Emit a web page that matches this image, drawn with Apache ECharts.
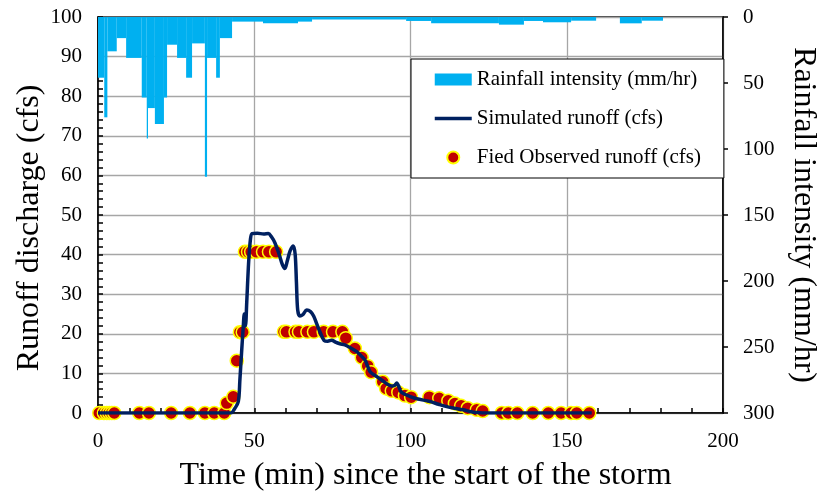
<!DOCTYPE html>
<html lang="en">
<head>
    <meta charset="utf-8" />
    <title>Runoff and rainfall</title>
    <script src="https://cdn.jsdelivr.net/npm/echarts@6/dist/echarts.min.js"></script>
    <style>
        html, body { margin: 0; padding: 0; background: #fff; }
        #main { width: 821px; height: 498px; }
    </style>
</head>
<body>
<div id="main"></div>
<script>
    // rainfall blocks: start time, end time (min), intensity (mm/hr)
    var rainStart = [0, 2, 3, 6, 9, 14, 15.6, 16, 18.2, 21.1, 22.1, 25.3, 28.2, 30.1, 34.2, 34.9, 37.8, 39, 42.9, 52.8, 64, 68.5, 98.6, 106.6, 128.3, 136.3, 142.4, 151.4, 167, 174];
    var rainEnd   = [2, 3, 6, 9, 14, 15.6, 16, 18.2, 21.1, 22.1, 25.3, 28.2, 30.1, 34.2, 34.9, 37.8, 39, 42.9, 52.8, 64, 68.5, 98.6, 106.6, 128.3, 136.3, 142.4, 151.4, 159.4, 174, 180.8];
    var rainRate  = [46, 76, 26, 16, 31, 61, 92, 69, 81, 61, 21, 31, 46, 20, 121, 31, 46, 16, 3.5, 4.8, 3.5, 1.8, 3, 4.8, 5.8, 3, 4, 2.8, 4.8, 2.8];

    // simulated runoff
    var simTime = [0, 42.5, 43.5, 44.9, 45.4, 46.0, 46.5, 46.8, 47.2, 47.6, 48.2, 48.8, 49.3, 51, 53, 54.5, 55.5, 56.6, 58, 59, 59.8, 60.6, 61.5, 62.5, 63.1, 63.5, 63.9, 64.6, 65.5, 66.8, 68, 69, 70, 71, 72.4, 73.5, 74.8, 76, 77.4, 79, 80.5, 82.8, 84.5, 85.5, 86.3, 87.2, 89.2, 91, 92.4, 94, 95, 95.6, 96.3, 96.9, 98, 99.8, 102, 106.2, 109, 111.6, 114, 116.9, 119, 121.2, 123, 158];
    var simFlow = [0, 0, 0.8, 2.9, 8.3, 16, 22, 25, 22, 28, 38, 44, 45.3, 45.4, 45.2, 45.3, 44.5, 43, 40, 37.5, 36.5, 38.5, 41, 42.2, 40, 33, 26, 24.5, 24.8, 26, 25.6, 24.5, 22.5, 20.5, 18.3, 18.1, 18.4, 17.9, 17.5, 17.2, 16.6, 15.5, 14.2, 13.3, 11.8, 10.3, 9.2, 8.2, 7.4, 6.8, 7.0, 7.6, 6.6, 5.4, 4.8, 4.2, 3.6, 2.9, 2.2, 1.6, 1.2, 0.8, 0.4, 0.1, 0, 0];

    // field observed runoff
    var obsTime = [0.4, 1.9, 2.8, 3.6, 4.4, 5.2, 13.2, 16.3, 23.4, 29.4, 34.2, 37.2, 40.4, 41.2, 43.3, 44.4, 45.4, 46.3, 47.0, 48.0, 49.0, 50.7, 52.8, 54.7, 57.0, 59.5, 60.3, 63.2, 64.3, 67.0, 69.1, 72.2, 75.2, 78.2, 79.3, 82.2, 84.4, 86.3, 87.4, 91.1, 92.2, 94.0, 96.1, 98.2, 100.2, 106.0, 109.2, 112.1, 114.2, 116.2, 118.3, 121.2, 123.1, 129.2, 131.3, 134.2, 139.1, 144.1, 148.2, 151.4, 153.2, 157.2];
    var obsFlow = [0, 0, 0, 0, 0, 0, 0, 0, 0, 0, 0, 0, 0, 2.5, 4.1, 13.2, 20.4, 20.4, 40.7, 40.7, 40.7, 40.7, 40.7, 40.7, 40.7, 20.5, 20.5, 20.5, 20.5, 20.5, 20.5, 20.5, 20.5, 20.5, 18.9, 16.3, 14.0, 11.9, 10.3, 7.9, 6.2, 5.6, 5.2, 4.4, 4.0, 4.0, 3.7, 3.1, 2.4, 1.8, 1.2, 0.8, 0.5, 0, 0, 0, 0, 0, 0, 0, 0, 0];

    var rainData = [];
    for (var i = 0; i < rainRate.length; i++) {
        rainData.push([rainStart[i], rainEnd[i], rainRate[i]]);
    }
    var simData = [];
    for (var j = 0; j < simTime.length; j++) {
        simData.push([simTime[j], simFlow[j]]);
    }
    var obsData = [];
    for (var k = 0; k < obsTime.length; k++) {
        obsData.push([obsTime[k], obsFlow[k]]);
    }

    var font = 'Liberation Serif';
    var myChart = echarts.init(document.getElementById('main'));

    var option = {
        animation: false,
        backgroundColor: '#fff',
        textStyle: { fontFamily: font, color: '#000' },
        grid: {
            left: 98, right: 98, top: 17, bottom: 85,
            outerBoundsMode: 'none',
            show: true, borderColor: '#000', borderWidth: 1.5
        },
        legend: {
            orient: 'vertical',
            left: 411, top: 59,
            padding: [10, 23, 10, 22],
            itemGap: 18,
            itemWidth: 37,
            itemHeight: 12,
            backgroundColor: '#fff',
            borderColor: '#000',
            borderWidth: 1,
            borderRadius: 0,
            textStyle: { fontFamily: font, fontSize: 21, color: '#000' },
            data: [
                { name: 'Rainfall intensity (mm/hr)', icon: 'rect' },
                { name: 'Simulated runoff (cfs)', itemStyle: { opacity: 0 }, lineStyle: { width: 3.5 } },
                { name: 'Fied Observed runoff (cfs)', icon: 'circle' }
            ]
        },
        xAxis: {
            type: 'value',
            min: 0, max: 200, interval: 50,
            name: 'Time (min) since the start of the storm',
            nameLocation: 'middle',
            nameGap: 47,
            nameTextStyle: { fontFamily: font, fontSize: 32, color: '#000', padding: [0, 0, 0, 30] },
            axisLine: { lineStyle: { color: '#000', width: 1.5 } },
            axisTick: { inside: true, length: 5, lineStyle: { color: '#000', width: 1.5 } },
            minorTick: { show: true, splitNumber: 5, length: 5, lineStyle: { color: '#000', width: 1.5 } },
            axisLabel: { fontFamily: font, fontSize: 21, color: '#000', margin: 18 },
            splitLine: { show: true, lineStyle: { color: '#a6a6a6', width: 1.3 } }
        },
        yAxis: [
            {
                type: 'value',
                min: 0, max: 100, interval: 10,
                name: 'Runoff discharge (cfs)',
                nameLocation: 'middle',
                nameGap: 52,
                nameMoveOverlap: false,
                nameTextStyle: { fontFamily: font, fontSize: 32, color: '#000', padding: [0, 26, 0, 0] },
                axisLine: { show: true, lineStyle: { color: '#000', width: 1.5 } },
                axisTick: { show: true, inside: true, length: 5, lineStyle: { color: '#000', width: 1.5 } },
                minorTick: { show: true, splitNumber: 5, length: 5, lineStyle: { color: '#000', width: 1.5 } },
                axisLabel: { fontFamily: font, fontSize: 21, color: '#000', margin: 16 },
                splitLine: { show: true, lineStyle: { color: '#a6a6a6', width: 1.3 } }
            },
            {
                type: 'value',
                position: 'right',
                inverse: true,
                min: 0, max: 300, interval: 50,
                name: 'Rainfall intensity (mm/hr)',
                nameLocation: 'middle',
                nameGap: 64,
                nameRotate: -90,
                nameTextStyle: { fontFamily: font, fontSize: 32, color: '#000' },
                axisLine: { show: true, lineStyle: { color: '#000', width: 1.5 } },
                axisTick: { show: true, inside: false, length: 5, lineStyle: { color: '#000', width: 1.5 } },
                axisLabel: { fontFamily: font, fontSize: 21, color: '#000', margin: 20 },
                splitLine: { show: false }
            }
        ],
        series: [
            {
                name: 'Rainfall intensity (mm/hr)',
                type: 'custom',
                yAxisIndex: 1,
                itemStyle: { color: '#00b0f0' },
                encode: { x: [0, 1], y: 2 },
                data: rainData,
                renderItem: function (params, api) {
                    var p0 = api.coord([api.value(0), 0]);
                    var p1 = api.coord([api.value(1), api.value(2)]);
                    return {
                        type: 'rect',
                        shape: { x: p0[0], y: p0[1], width: p1[0] - p0[0], height: p1[1] - p0[1] },
                        style: { fill: '#00b0f0' }
                    };
                }
            },
            {
                name: 'Simulated runoff (cfs)',
                type: 'line',
                symbol: 'none',
                smooth: 0.3,
                color: '#002060',
                lineStyle: { color: '#002060', width: 3.5 },
                data: simData
            },
            {
                name: 'Fied Observed runoff (cfs)',
                type: 'scatter',
                symbol: 'circle',
                symbolSize: 13,
                itemStyle: { color: '#c00000', borderColor: '#ffff00', borderWidth: 1.5, opacity: 1 },
                data: obsData
            }
        ]
    };

    myChart.setOption(option);
</script>
</body>
</html>
